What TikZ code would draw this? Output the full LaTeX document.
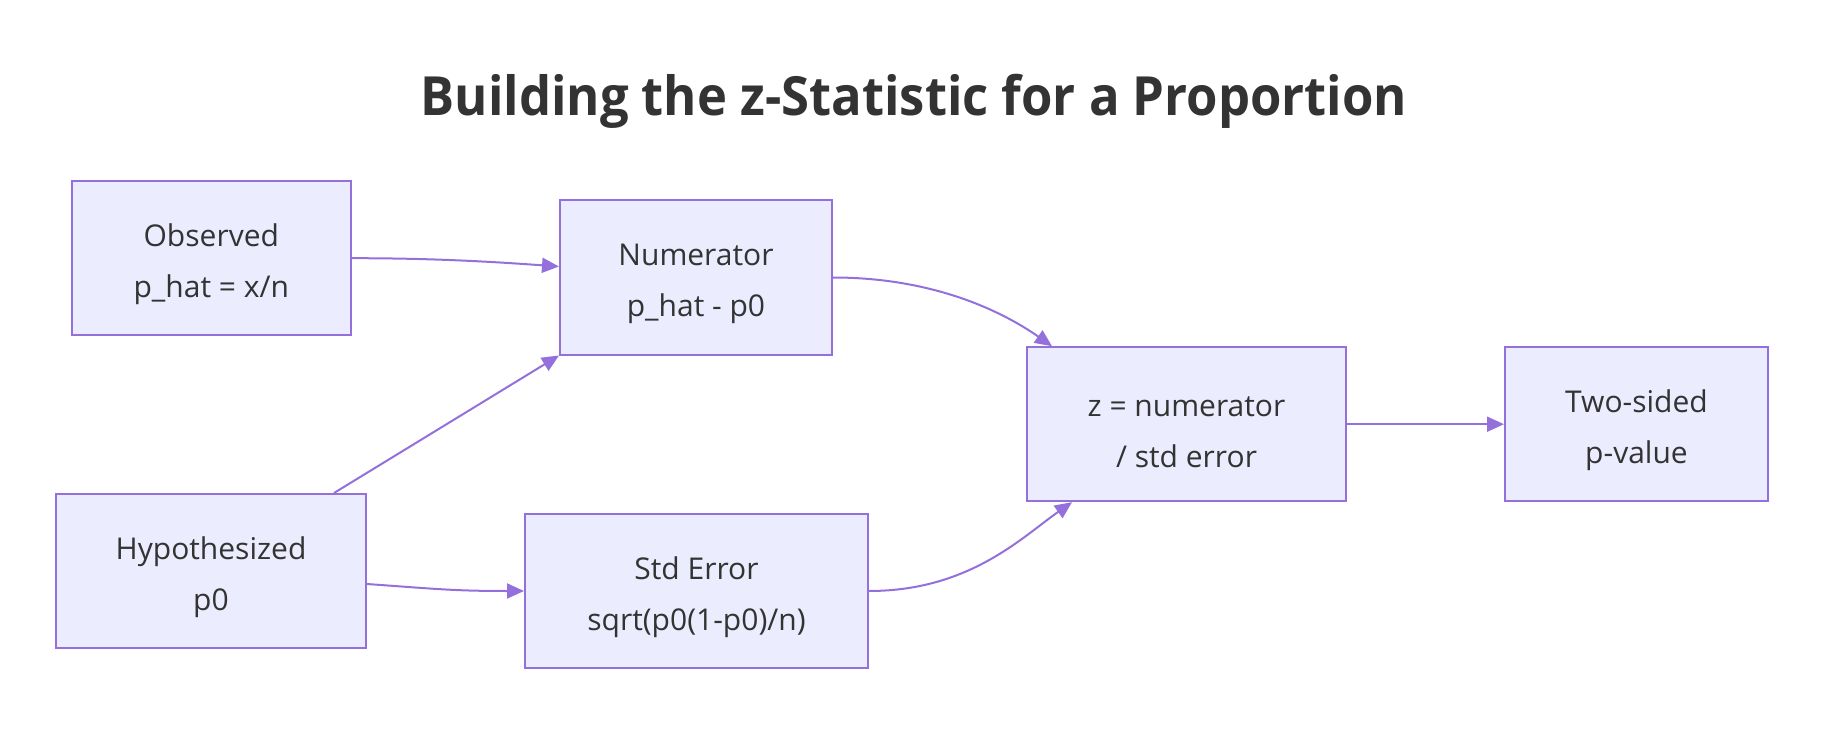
\documentclass[tikz,border=0pt]{standalone}
\usepackage{fontspec}
\setmainfont{Open Sans}
\newfontfamily\titlefont{Open Sans}[FakeStretch=0.94]
\usetikzlibrary{arrows.meta}
\definecolor{boxfill}{HTML}{ECECFF}
\definecolor{boxline}{HTML}{9370DB}
\definecolor{txt}{HTML}{333333}
\newcommand\toppad{\rule{0pt}{35pt}}
\begin{document}
\begin{tikzpicture}[x=1pt,y=-1pt,
  box/.style={draw=boxline, fill=boxfill, line width=2pt, text=txt, align=center,
    font=\fontsize{30}{51}\selectfont, inner sep=0pt, minimum height=154pt},
  link/.style={draw=boxline, line width=2pt, -{Triangle[length=17pt,width=15pt]}},
  ttl/.style={text=txt, font=\titlefont\fontsize{54}{60}\selectfont\bfseries, anchor=base}]
\useasboundingbox (0,0) rectangle (1840,730);
\node[ttl] (title) at (914,116) {Building the z-Statistic for a Proportion};
\node[box, minimum width=279pt] (obs) at (211.3,258.2) {\toppad Observed\\p\_hat = x/n};
\node[box, minimum width=272pt] (num) at (696,277.5) {\toppad Numerator\\p\_hat - p0};
\node[box, minimum width=310pt] (hyp) at (211,571) {\toppad Hypothesized\\p0};
\node[box, minimum width=343pt] (std) at (696.5,591) {\toppad Std Error\\sqrt(p0(1-p0)/n)};
\node[box, minimum width=319pt] (z) at (1186.5,424.2) {\toppad z = numerator\\/ std error};
\node[box, minimum width=263pt] (two) at (1636.5,424.2) {\toppad Two-sided\\p-value};
\draw[link] (obs.east) .. controls +(80,0) and +(-70,-5) .. ([yshift=11pt]num.west);
\draw[link] ([xshift=123pt]hyp.north) -- (num.south west);
\draw[link] ([yshift=-13pt]hyp.east) .. controls +(70,5) and +(-70,0) .. (std.west);
\draw[link] (num.east) .. controls +(100,0) and +(-50,-35) .. ([xshift=26pt]z.north west);
\draw[link] (std.east) .. controls +(100,0) and +(-50,35) .. ([xshift=46pt]z.south west);
\draw[link] (z.east) -- (two.west);
\end{tikzpicture}
\end{document}
